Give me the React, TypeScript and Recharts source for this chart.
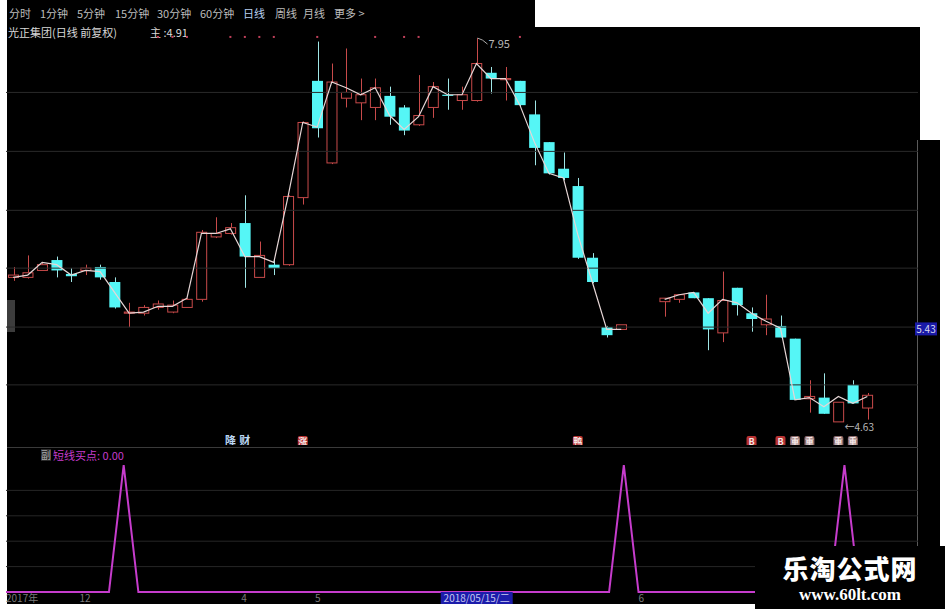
import React from 'react';
import { ComposedChart, LineChart, Bar, Line, Scatter, XAxis, YAxis, ReferenceLine } from 'recharts';

// daily candles, 前复权 (two suspended days at 43-44)
const opens = [
  5.88, 5.88, 5.94, 6.03, 5.91, 5.94, 5.97, 5.84, 5.57, 5.57,
  5.62, 5.58, 5.62, 5.69, 6.23, 6.26, 6.35, 5.88, 5.99, 5.99,
  6.57, 7.58, 6.87, 7.43, 7.39, 7.35, 7.45, 7.35, 7.20, 7.35,
  7.46, 7.41, 7.41, 7.65, 7.59, 7.58, 7.29, 7.05, 6.82, 6.67,
  6.05, 5.45, 5.43, null, null, 5.67, 5.69, 5.75, 5.70, 5.40,
  5.79, 5.57, 5.47, 5.46, 5.35, 4.83, 4.84, 4.63, 4.95, 4.75,
];
const closes = [
  5.90, 5.92, 5.99, 5.94, 5.89, 5.96, 5.88, 5.62, 5.58, 5.62,
  5.65, 5.64, 5.69, 6.27, 6.26, 6.31, 6.06, 6.07, 5.96, 6.58,
  7.22, 7.17, 7.57, 7.48, 7.46, 7.52, 7.27, 7.15, 7.28, 7.53,
  7.45, 7.46, 7.73, 7.60, 7.60, 7.37, 7.00, 6.78, 6.74, 6.05,
  5.84, 5.38, 5.47, null, null, 5.70, 5.73, 5.70, 5.43, 5.68,
  5.64, 5.52, 5.52, 5.36, 4.82, 4.85, 4.70, 4.80, 4.79, 4.86,
];
const highs = [
  5.97, 6.07, 6.01, 6.06, 5.96, 5.99, 5.99, 5.88, 5.66, 5.64,
  5.68, 5.68, 5.70, 6.29, 6.40, 6.35, 6.59, 6.19, 6.03, 6.59,
  7.23, 7.92, 7.73, 7.86, 7.60, 7.60, 7.53, 7.37, 7.63, 7.57,
  7.60, 7.53, 7.95, 7.70, 7.70, 7.58, 7.41, 7.05, 6.96, 6.74,
  6.09, 5.46, 5.47, null, null, 5.70, 5.73, 5.75, 5.70, 5.93,
  5.79, 5.62, 5.73, 5.55, 5.35, 4.99, 5.05, 4.80, 4.99, 4.88,
];
const lows = [
  5.85, 5.87, 5.94, 5.88, 5.84, 5.90, 5.86, 5.61, 5.45, 5.55,
  5.60, 5.57, 5.62, 5.67, 6.22, 6.25, 5.79, 5.88, 5.90, 5.98,
  6.51, 7.09, 6.86, 7.35, 7.24, 7.24, 7.20, 7.11, 7.19, 7.26,
  7.33, 7.33, 7.40, 7.47, 7.41, 7.36, 6.85, 6.77, 6.72, 6.04,
  5.83, 5.36, 5.43, null, null, 5.54, 5.66, 5.70, 5.25, 5.32,
  5.55, 5.41, 5.38, 5.36, 4.82, 4.71, 4.70, 4.63, 4.79, 4.65,
];
const maLine = [
  5.88, 5.90, 6.01, 5.99, 5.90, 5.94, 5.93, 5.75, 5.57, 5.58,
  5.63, 5.63, 5.70, 6.26, 6.26, 6.30, 6.06, 6.06, 6.01, 6.59,
  7.22, 7.18, 7.57, 7.52, 7.46, 7.52, 7.28, 7.16, 7.27, 7.53,
  7.46, 7.46, 7.73, 7.60, 7.60, 7.37, 7.05, 6.78, 6.74, 6.25,
  5.84, 5.43, 5.43, null, null, 5.69, 5.73, 5.75, 5.57, 5.69,
  5.66, 5.57, 5.50, 5.44, 4.82, 4.84, 4.76, 4.85, 4.79, 4.85,
];
// 短线买点 indicator (sub panel)
const buyPoints = [
  0, 0, 0, 0, 0, 0, 0, 0, 1, 0,
  0, 0, 0, 0, 0, 0, 0, 0, 0, 0,
  0, 0, 0, 0, 0, 0, 0, 0, 0, 0,
  0, 0, 0, 0, 0, 0, 0, 0, 0, 0,
  0, 0, 1, 0, 0, 0, 0, 0, 0, 0,
  0, 0, 0, 0, 0, 0, 0, 1, 0, 0,
];

const topMarks = [10, 11, 12, 15, 16, 17, 18, 21, 25, 27, 28, 35];
const signals = [
  { i: 15, text: '降', kind: 'plain' },
  { i: 16, text: '财', kind: 'plain' },
  { i: 20, text: '涨', kind: 'red' },
  { i: 39, text: '鸭', kind: 'red' },
  { i: 51, text: 'B', kind: 'red' },
  { i: 53, text: 'B', kind: 'red' },
  { i: 54, text: '重', kind: 'grey' },
  { i: 55, text: '重', kind: 'grey' },
  { i: 57, text: '重', kind: 'grey' },
  { i: 58, text: '重', kind: 'grey' },
];
const priceNotes = [
  { i: 32, text: '7.95', at: 'high' },
  { i: 57, text: '←4.63', at: 'low' },
];
const dateTicks = [
  { i: 0, text: '2017年' },
  { i: 5, text: '12' },
  { i: 16, text: '4' },
  { i: 21, text: '5' },
  { i: 32, text: '2018/05/15/二', active: true },
  { i: 43, text: '6' },
];
const gridPrices = [4.95, 5.45, 5.96, 6.46, 6.97, 7.48];
const lastPrice = 5.43;
const toolbar = [
  { text: '分时', x: 9 }, { text: '1分钟', x: 40 }, { text: '5分钟', x: 77 },
  { text: '15分钟', x: 115 }, { text: '30分钟', x: 157 }, { text: '60分钟', x: 200 },
  { text: '日线', x: 243, active: true }, { text: '周线', x: 275 }, { text: '月线', x: 303 },
  { text: '更多 >', x: 334 },
];

const SLOTS = 63;
const RED = '#c84a4a';
const CYAN = '#55f6f6';
const MAGENTA = '#c63ccc';
const FONT = '"Noto Sans CJK SC", "Noto Sans", sans-serif';

const rows = Array.from({ length: SLOTS }, (_, i) => {
  const sig = signals.find((s) => s.i === i);
  const note = priceNotes.find((n) => n.i === i);
  return {
    idx: i,
    open: opens[i] ?? null,
    close: closes[i] ?? null,
    high: highs[i] ?? null,
    low: lows[i] ?? null,
    ma: maLine[i] ?? null,
    buy: buyPoints[i] ?? null,
    mark: topMarks.includes(i) ? 7.96 : null,
    sig: sig ? 4.465 : null,
    sigText: sig ? sig.text : null,
    sigKind: sig ? sig.kind : null,
    note: note || null,
  };
});

const Candle = (props: any) => {
  const { x, y, width, height, payload } = props;
  if (payload.open == null || payload.high == null) return <g />;
  const { open, close, high, low } = payload;
  const top = Math.min(y, y + height);
  const bot = Math.max(y, y + height);
  const py = (p: number) => top + ((high - p) / (high - low || 1)) * (bot - top);
  const cx = Math.round(x + width / 2) + 0.5;
  const up = close >= open;
  const bTop = py(Math.max(open, close));
  const bBot = py(Math.min(open, close));
  const bh = Math.max(bBot - bTop, 1);
  const n = payload.note;
  return (
    <g>
      {up ? (
        <>
          <line x1={cx} x2={cx} y1={top} y2={bTop} stroke={RED} />
          <line x1={cx} x2={cx} y1={bTop + bh} y2={bot} stroke={RED} />
          <rect x={x + 0.5} y={bTop} width={width - 1} height={bh} fill="#000" stroke={RED} />
        </>
      ) : (
        <>
          <line x1={cx} x2={cx} y1={top} y2={bot} stroke="#9fe6e6" />
          <rect x={x} y={bTop} width={width} height={bh} fill={CYAN} />
        </>
      )}
      {n && n.at === 'high' && (
        <g>
          <polyline points={`${cx},${top} ${cx + 5},${top + 2} ${cx + 10},${top + 6}`} fill="none" stroke="#aaa" />
          <text x={cx + 11} y={top + 10} fill="#b8b8b8" fontSize={11} fontFamily={FONT}>{n.text}</text>
        </g>
      )}
      {n && n.at === 'low' && (
        <text x={cx + 5} y={bot + 9} fill="#b8b8b8" fontSize={10} fontFamily={FONT}>{n.text}</text>
      )}
    </g>
  );
};

const MarkDot = (props: any) => {
  const { cx, cy, payload } = props;
  if (payload.mark == null || cx == null) return <g />;
  return <rect x={cx - 1} y={cy - 1} width={2} height={2} fill="#c0405a" />;
};

const SignalTag = (props: any) => {
  const { cx, cy, payload } = props;
  if (payload.sig == null || cx == null) return <g />;
  const kind = payload.sigKind;
  const bg = kind === 'red' ? '#b83232' : kind === 'grey' ? '#8a6868' : 'none';
  const fg = kind === 'plain' ? '#bcd8f4' : '#f4e6e6';
  return (
    <g>
      {bg !== 'none' && <rect x={cx - 5} y={cy - 5} width={10} height={11} rx={2} fill={bg} />}
      <text x={cx} y={cy + 4} textAnchor="middle" fill={fg} fontSize={kind === 'plain' ? 11 : 9} fontWeight="bold" fontFamily={FONT}>
        {payload.sigText}
      </text>
    </g>
  );
};

const PriceTick = (props: any) => {
  const { x, y, payload } = props;
  return (
    <g>
      <rect x={x - 11} y={y - 7} width={22} height={13} fill="#1a1aa6" />
      <text x={x} y={y + 4} textAnchor="middle" fill="#d8d8f0" fontSize={10} fontFamily={FONT}>
        {Number(payload.value).toFixed(2)}
      </text>
    </g>
  );
};

const DateTick = (props: any) => {
  const { x, y, payload } = props;
  const t = dateTicks.find((d) => d.i === payload.value);
  if (!t) return <g />;
  if (t.active) {
    return (
      <g>
        <rect x={x - 36} y={y - 2} width={72} height={13} fill="#1c1caa" />
        <text x={x} y={y + 8} textAnchor="middle" fill="#c8c8f0" fontSize={10} fontFamily={FONT}>{t.text}</text>
      </g>
    );
  }
  return (
    <text x={x} y={y + 8} fill="#7a7a7a" fontSize={10} fontFamily={FONT}>{t.text}</text>
  );
};

const abs = (left: number, top: number, w: number, h: number, bg: string): React.CSSProperties => ({
  position: 'absolute', left, top, width: w, height: h, background: bg,
});

export default function App() {
  return (
    <div style={{ position: 'fixed', left: 0, top: 0, width: 945, height: 609, background: '#fff', overflow: 'hidden', fontFamily: FONT }}>
      <div style={abs(7, 0, 933, 604, '#000')} />
      <div style={abs(535, 0, 410, 27, '#fff')} />
      <div style={abs(920, 27, 25, 113, '#fff')} />
      <div style={abs(7, 300, 8, 32, '#3c3c3c')} />
      <div style={abs(917, 140, 1, 406, '#5a5a5a')} />

      {toolbar.map((t) => (
        <span key={t.text} style={{ position: 'absolute', left: t.x, top: 7, fontSize: 11, lineHeight: '13px', color: t.active ? '#b8d0f0' : '#bcbcbc', whiteSpace: 'nowrap' }}>
          {t.text}
        </span>
      ))}
      <span style={{ position: 'absolute', left: 8, top: 26, fontSize: 11, lineHeight: '13px', color: '#d8d8d8', whiteSpace: 'nowrap' }}>光正集团(日线 前复权)</span>
      <span style={{ position: 'absolute', left: 150, top: 26, fontSize: 11, lineHeight: '13px', color: '#d8d8d8', whiteSpace: 'nowrap' }}>主 :4.91</span>

      <div style={{ position: 'absolute', left: 6, top: 0 }}>
        <ComposedChart width={934} height={447} data={rows} margin={{ top: 30, right: 0, bottom: 2, left: 0 }}>
          <XAxis dataKey="idx" type="category" hide />
          <YAxis
            orientation="right"
            width={22}
            type="number"
            domain={[4.43, 8.02]}
            allowDataOverflow
            ticks={[lastPrice]}
            tick={<PriceTick />}
            tickLine={false}
            axisLine={false}
          />
          {gridPrices.map((p) => (
            <ReferenceLine key={p} y={p} stroke="#2a2a2a" />
          ))}
          <Bar dataKey={(d: any) => (d.high == null ? null : [d.low, d.high])} barSize={11} shape={<Candle />} isAnimationActive={false} />
          <Line dataKey="ma" stroke="#e6d6d6" strokeWidth={1.2} dot={false} connectNulls={false} isAnimationActive={false} />
          <Scatter dataKey="mark" shape={<MarkDot />} isAnimationActive={false} />
          <Scatter dataKey="sig" shape={<SignalTag />} isAnimationActive={false} />
        </ComposedChart>
      </div>

      <div style={abs(7, 447, 911, 1, '#3a3a3a')} />
      <span style={{ position: 'absolute', left: 41, top: 449, fontSize: 10, lineHeight: '12px', color: '#aaa', background: '#2a2a2a' }}>副</span>
      <span style={{ position: 'absolute', left: 53, top: 449, fontSize: 11, lineHeight: '12px', color: MAGENTA, whiteSpace: 'nowrap' }}>短线买点: 0.00</span>

      <div style={{ position: 'absolute', left: 6, top: 447 }}>
        <LineChart width={934} height={157} data={rows} margin={{ top: 18, right: 0, bottom: 0, left: 0 }}>
          <XAxis dataKey="idx" type="category" height={12} interval={0} tick={<DateTick />} axisLine={false} tickLine={false} tickSize={0} />
          <YAxis orientation="right" width={22} type="number" domain={[0, 1]} tick={false} tickLine={false} axisLine={false} />
          {[0.2, 0.4, 0.6, 0.8].map((v) => (
            <ReferenceLine key={v} y={v} stroke="#262626" />
          ))}
          <Line type="linear" dataKey="buy" stroke={MAGENTA} strokeWidth={2} dot={false} isAnimationActive={false} />
        </LineChart>
      </div>

      <div style={abs(0, 604, 755, 5, '#fff')} />
      <div style={abs(755, 546, 190, 63, '#000')} />
      <div style={{ position: 'absolute', left: 755, top: 553, width: 190, textAlign: 'center', color: '#fff', fontSize: 26, fontWeight: 900, lineHeight: '30px', letterSpacing: 1 }}>乐淘公式网</div>
      <div style={{ position: 'absolute', left: 755, top: 585, width: 190, textAlign: 'center', color: '#fff', fontSize: 17, fontWeight: 'bold', lineHeight: '20px', fontFamily: '"Liberation Serif", serif' }}>www.60lt.com</div>
    </div>
  );
}
